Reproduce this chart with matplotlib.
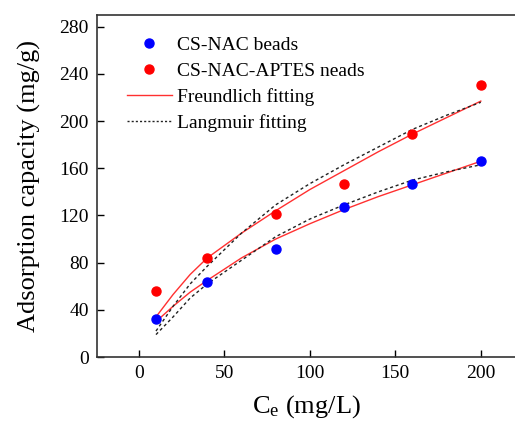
import matplotlib
matplotlib.use("Agg")
import matplotlib.pyplot as plt
from matplotlib.lines import Line2D

# Experimental data
ce = [10, 40, 80, 120, 160, 200]
q_cs_nac = [32, 64, 92, 127, 147, 166]
q_cs_nac_aptes = [56, 84, 121, 147, 189, 231]

# Fitted curves
ce_fit = [10, 20, 30, 40, 60, 80, 100, 120, 140, 160, 180, 200]
freund_cs_nac = [30, 43, 55, 65, 84, 100, 113, 125, 136, 146, 156, 166]
freund_aptes = [34, 53, 70, 84, 105, 124, 142, 158, 174, 189, 203, 217]
lang_cs_nac = [19, 34, 50, 62, 82, 102, 117, 129, 140, 150, 157, 163]
lang_aptes = [22, 43, 62, 77, 105, 129, 147, 163, 178, 193, 205, 216]

xticks = [0, 50, 100, 150, 200]
yticks = [0, 40, 80, 120, 160, 200, 240, 280]

plt.rcParams['font.family'] = ['Liberation Serif', 'DejaVu Serif']
plt.rcParams['mathtext.fontset'] = 'custom'
plt.rcParams['mathtext.rm'] = 'Liberation Serif'
plt.rcParams['mathtext.it'] = 'Liberation Serif'

fig = plt.figure(figsize=(5.15, 4.23), dpi=100)
ax = fig.add_axes([97/515, 1-357/423, 1-97/515, (357-15)/423])

red_line = '#ff3030'
dash = (0, (2.2, 2.0))
ax.plot(ce_fit, freund_cs_nac, color=red_line, lw=1.0, zorder=2)
ax.plot(ce_fit, freund_aptes, color=red_line, lw=1.0, zorder=2)
ax.plot(ce_fit, lang_cs_nac, color='#222222', lw=1.0, ls=dash, zorder=2)
ax.plot(ce_fit, lang_aptes, color='#222222', lw=1.0, ls=dash, zorder=2)
ax.plot(ce, q_cs_nac, 'o', color='#0000ff', ms=6.5, mec='#0000ff', zorder=3)
ax.plot(ce, q_cs_nac_aptes, 'o', color='#ff0000', ms=6.5, mec='#ff0000', zorder=3)

ax.set_xlim(-24.5, 220)
ax.set_ylim(0, 290)
ax.set_xticks(xticks)
ax.set_yticks(yticks)
ax.tick_params(direction='in', length=5, width=1, labelsize=14, pad=6)
ax.spines['right'].set_visible(False)
for s in ['left', 'bottom', 'top']:
    ax.spines[s].set_linewidth(1.2)
    ax.spines[s].set_color('#333333')

ax.set_ylabel('Adsorption capacity (mg/g)', fontsize=19, labelpad=13)
ax.set_xlabel(r'C$_{\mathrm{e}}$ (mg/L)', fontsize=19, labelpad=8)

handles = [
    Line2D([], [], ls='none', marker='o', color='#0000ff', ms=6.5),
    Line2D([], [], ls='none', marker='o', color='#ff0000', ms=6.5),
    Line2D([], [], color=red_line, lw=1.0),
    Line2D([], [], color='#222222', lw=1.0, ls=(0, (1.5, 1.5))),
]
labels = ['CS-NAC beads', 'CS-NAC-APTES neads', 'Freundlich fitting', 'Langmuir fitting']
ax.legend(handles, labels, loc='upper left', bbox_to_anchor=(0.072, 0.938),
          frameon=False, fontsize=14, handlelength=2.3, handletextpad=0.28,
          labelspacing=0.42, borderpad=0, borderaxespad=0, numpoints=1)

fig.savefig('out.png', dpi=100)
